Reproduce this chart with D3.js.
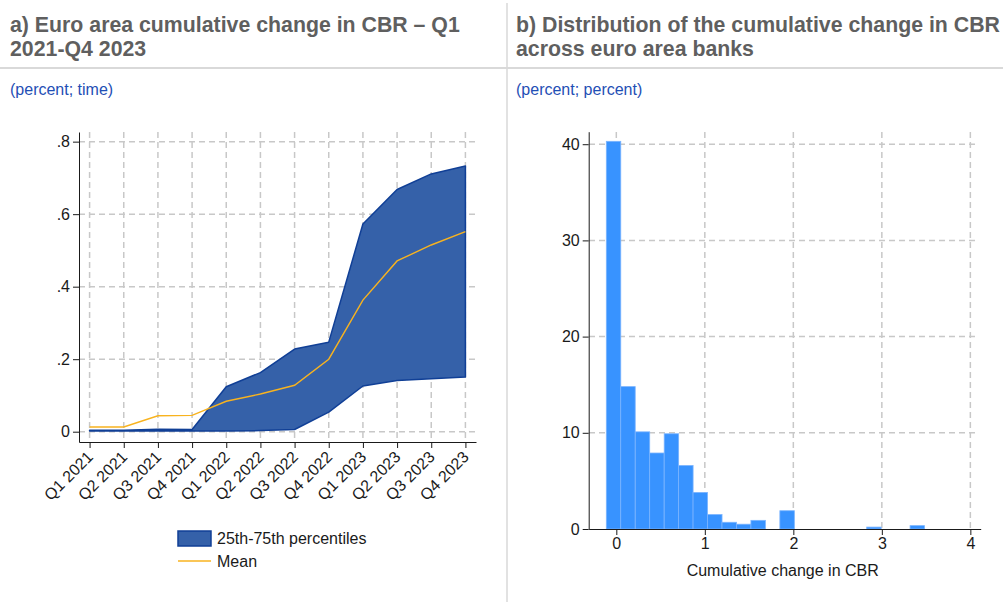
<!DOCTYPE html>
<html>
<head>
<meta charset="utf-8">
<script src="https://cdn.jsdelivr.net/npm/d3@7"></script>
<style>
  body { margin: 0; background: #fff; }
  svg { font-family: "Liberation Sans", Arial, sans-serif; display: block; }
</style>
</head>
<body>
<div id="chart"></div>
<script>
// panel a) data
var quarters = ["Q1 2021", "Q2 2021", "Q3 2021", "Q4 2021", "Q1 2022", "Q2 2022",
                "Q3 2022", "Q4 2022", "Q1 2023", "Q2 2023", "Q3 2023", "Q4 2023"];
var p25 = [0.002, 0.002, 0.002, 0.002, 0.002, 0.003, 0.006, 0.054, 0.126, 0.141, 0.146, 0.151];
var p75 = [0.004, 0.004, 0.007, 0.006, 0.124, 0.163, 0.228, 0.247, 0.573, 0.668, 0.711, 0.733];
var meanVals = [0.013, 0.013, 0.044, 0.045, 0.084, 0.104, 0.128, 0.200, 0.363, 0.471, 0.515, 0.552];
var aTicks = [0, 0.2, 0.4, 0.6, 0.8];
var aTickLabels = ["0", ".2", ".4", ".6", ".8"];

// panel b) data (histogram bins: lower edge, percent)
var binLower = [-0.113, 0.050, 0.214, 0.377, 0.541, 0.704, 0.867, 1.031, 1.194, 1.358, 1.521,
                1.685, 1.848, 2.012, 2.175, 2.339, 2.502, 2.665, 2.829, 2.992, 3.156, 3.319];
var binPct = [40.3, 14.8, 10.1, 7.9, 9.9, 6.6, 3.8, 1.5, 0.7, 0.5, 0.9,
              0, 1.9, 0, 0, 0, 0, 0, 0.2, 0, 0, 0.35];
var binWidth = 0.1634;
var bTicksX = [0, 1, 2, 3, 4];
var bTicksY = [0, 10, 20, 30, 40];

var W = 1003, H = 602;
var gridColor = "#c8c8c8";
var fs = 16;

var svg = d3.select("#chart").append("svg")
    .attr("width", W).attr("height", H);

svg.append("rect").attr("width", W).attr("height", H).attr("fill", "#fff");

// header
svg.append("line").attr("x1", 0).attr("x2", W).attr("y1", 68).attr("y2", 68)
  .attr("stroke", "#d9d9d9").attr("stroke-width", 2);
svg.append("line").attr("x1", 507).attr("x2", 507).attr("y1", 3).attr("y2", H)
  .attr("stroke", "#d9d9d9").attr("stroke-width", 1.5);

var titles = [
  { x: 10, lines: ["a) Euro area cumulative change in CBR \u2013 Q1", "2021-Q4 2023"], sub: "(percent; time)" },
  { x: 516, lines: ["b) Distribution of the cumulative change in CBR", "across euro area banks"], sub: "(percent; percent)" }
];
titles.forEach(function(t) {
  t.lines.forEach(function(l, i) {
    svg.append("text").attr("x", t.x).attr("y", 32 + i * 23.5)
      .attr("font-size", 21.3).attr("font-weight", "bold").attr("fill", "#5f5f5f")
      .text(l);
  });
  svg.append("text").attr("x", t.x).attr("y", 94.5)
    .attr("font-size", fs).attr("fill", "#1f4fb5")
    .text(t.sub);
});

// ---------- panel a ----------
var xA = d3.scalePoint().domain(quarters).range([79, 476]).padding(0.31);
var yA = d3.scaleLinear().domain([-0.0284, 0.8266]).range([442, 132]);

var gA = svg.append("g");

// grid
gA.selectAll(".hgrid").data(aTicks).enter().append("line")
  .attr("x1", 79).attr("x2", 476)
  .attr("y1", function(d) { return yA(d); }).attr("y2", function(d) { return yA(d); })
  .attr("stroke", gridColor).attr("stroke-width", 1.5).attr("stroke-dasharray", "6,4");
gA.selectAll(".vgrid").data(quarters).enter().append("line")
  .attr("x1", function(d) { return xA(d); }).attr("x2", function(d) { return xA(d); })
  .attr("y1", 132).attr("y2", 442)
  .attr("stroke", gridColor).attr("stroke-width", 1.5).attr("stroke-dasharray", "6,4");

var area = d3.area()
  .x(function(d, i) { return xA(quarters[i]); })
  .y0(function(d, i) { return yA(p25[i]); })
  .y1(function(d, i) { return yA(p75[i]); });

gA.append("path").datum(quarters)
  .attr("d", area)
  .attr("fill", "#3561a9").attr("stroke", "#103f96").attr("stroke-width", 1.5)
  .attr("stroke-linejoin", "round");

var meanLine = d3.line()
  .x(function(d, i) { return xA(quarters[i]); })
  .y(function(d) { return yA(d); });

gA.append("path").datum(meanVals)
  .attr("d", meanLine)
  .attr("fill", "none").attr("stroke", "#f8b31f").attr("stroke-width", 1.4);

var axA = d3.axisLeft(yA).tickValues(aTicks).tickSize(6).tickSizeOuter(0)
  .tickFormat(function(d, i) { return aTickLabels[i]; });
gA.append("g").attr("transform", "translate(79,0)").call(axA)
  .call(function(g) {
    g.selectAll("text").attr("font-size", fs).attr("fill", "#1a1a1a").attr("font-family", null);
    g.selectAll("line,path").attr("stroke", "#1a1a1a");
  });

var axAx = d3.axisBottom(xA).tickSize(6).tickSizeOuter(0);
gA.append("g").attr("transform", "translate(0,442)").call(axAx)
  .call(function(g) {
    g.selectAll("line,path").attr("stroke", "#1a1a1a");
    g.selectAll("text")
      .attr("font-size", fs).attr("fill", "#1a1a1a").attr("font-family", null)
      .attr("x", 0).attr("y", 0).attr("dy", "0.35em")
      .attr("text-anchor", "end")
      .attr("transform", "translate(0,12) rotate(-45)");
  });

// legend
var lg = svg.append("g");
lg.append("rect").attr("x", 178).attr("y", 531).attr("width", 33).attr("height", 15)
  .attr("fill", "#3561a9").attr("stroke", "#103f96").attr("stroke-width", 1.5);
lg.append("text").attr("x", 217).attr("y", 538.5).attr("dy", "0.35em")
  .attr("font-size", fs).attr("fill", "#1a1a1a").text("25th-75th percentiles");
lg.append("line").attr("x1", 178).attr("x2", 211).attr("y1", 561).attr("y2", 561)
  .attr("stroke", "#f8b31f").attr("stroke-width", 1.4);
lg.append("text").attr("x", 217).attr("y", 561).attr("dy", "0.35em")
  .attr("font-size", fs).attr("fill", "#1a1a1a").text("Mean");

// ---------- panel b ----------
var xB = d3.scaleLinear().domain([-0.312, 4.117]).range([588.7, 980.7]);
var yB = d3.scaleLinear().domain([0, 41.3]).range([529, 131.7]);

var gB = svg.append("g");

gB.selectAll(".hgrid").data(bTicksY.slice(1)).enter().append("line")
  .attr("x1", 589).attr("x2", 977)
  .attr("y1", function(d) { return yB(d); }).attr("y2", function(d) { return yB(d); })
  .attr("stroke", gridColor).attr("stroke-width", 1.5).attr("stroke-dasharray", "6,4");
gB.selectAll(".vgrid").data(bTicksX).enter().append("line")
  .attr("x1", function(d) { return xB(d); }).attr("x2", function(d) { return xB(d); })
  .attr("y1", 132).attr("y2", 529)
  .attr("stroke", gridColor).attr("stroke-width", 1.5).attr("stroke-dasharray", "6,4");

var bins = binPct.map(function(p, i) { return { lo: binLower[i], pct: p }; })
  .filter(function(b) { return b.pct > 0; });

gB.selectAll(".bar").data(bins).enter().append("rect")
  .attr("x", function(d) { return xB(d.lo); })
  .attr("y", function(d) { return yB(d.pct); })
  .attr("width", xB(binWidth) - xB(0))
  .attr("height", function(d) { return yB(0) - yB(d.pct); })
  .attr("fill", "#3893ff").attr("stroke", "#7ab4ff").attr("stroke-width", 0.8);

var axB = d3.axisLeft(yB).tickValues(bTicksY).tickSize(6).tickSizeOuter(0);
gB.append("g").attr("transform", "translate(588.7,0)").call(axB)
  .call(function(g) {
    g.selectAll("text").attr("font-size", fs).attr("fill", "#1a1a1a").attr("font-family", null);
    g.selectAll("line,path").attr("stroke", "#1a1a1a");
  });

var axBx = d3.axisBottom(xB).tickValues(bTicksX).tickSize(6).tickSizeOuter(0)
  .tickFormat(d3.format("d"));
gB.append("g").attr("transform", "translate(0,529)").call(axBx)
  .call(function(g) {
    g.selectAll("text").attr("font-size", fs).attr("fill", "#1a1a1a").attr("font-family", null);
    g.selectAll("line,path").attr("stroke", "#1a1a1a");
  });

gB.append("text").attr("x", xB(1.88)).attr("y", 576)
  .attr("text-anchor", "middle").attr("font-size", fs).attr("fill", "#1a1a1a")
  .text("Cumulative change in CBR");
</script>
</body>
</html>
